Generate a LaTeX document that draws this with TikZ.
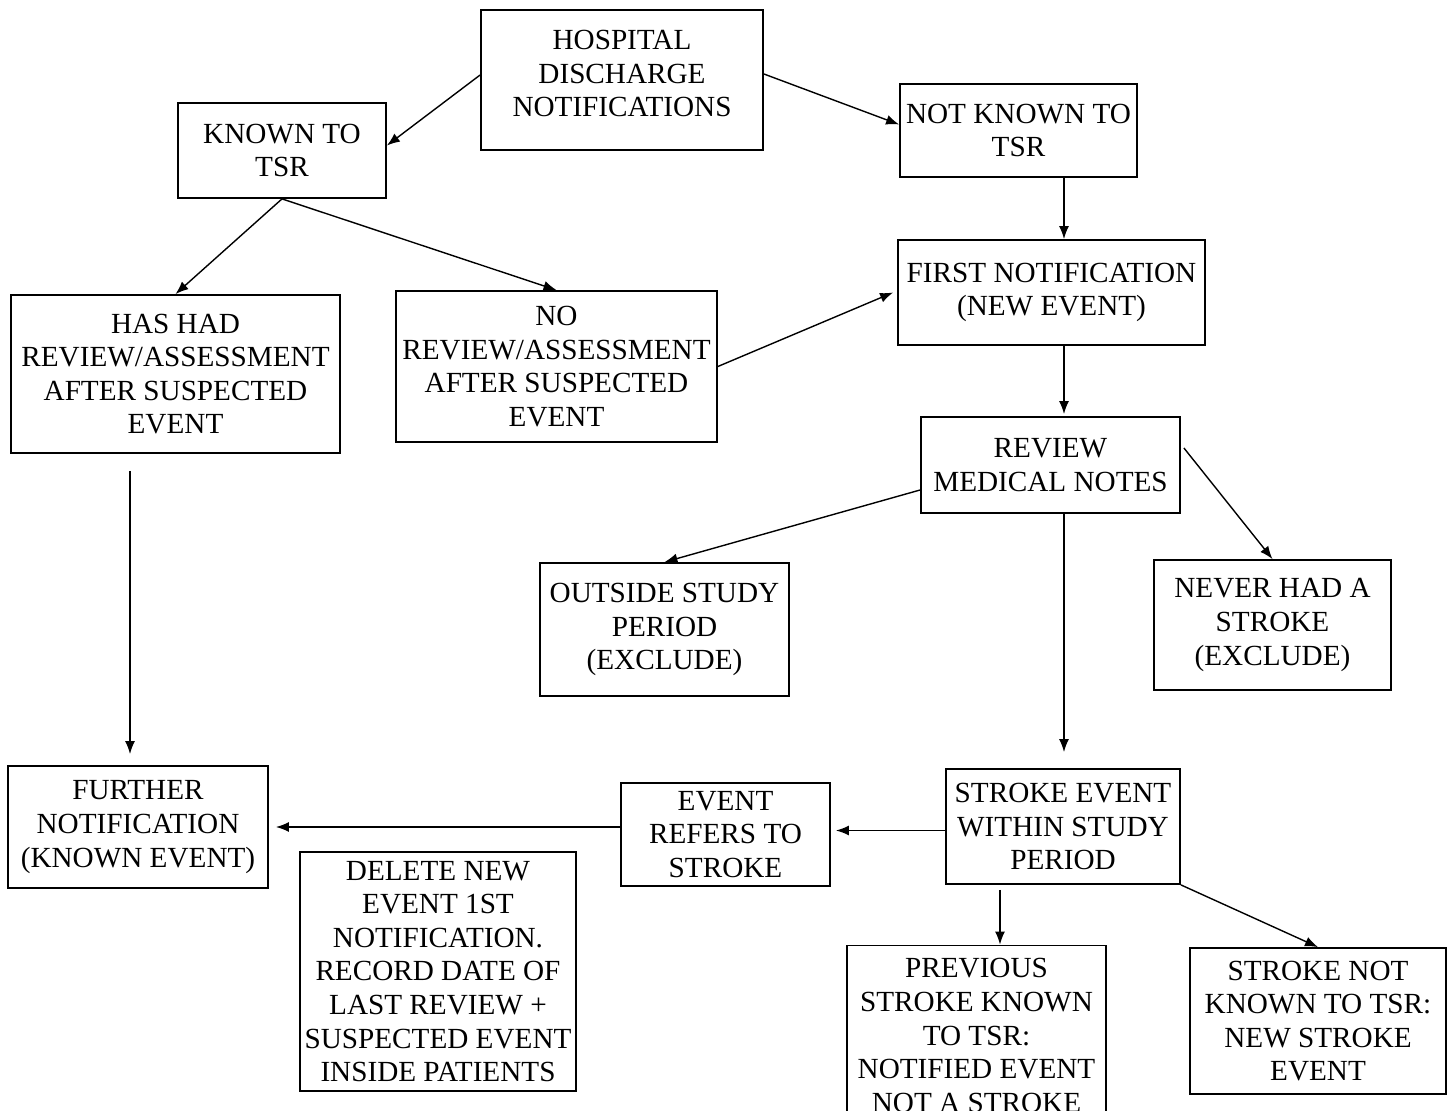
\documentclass[tikz,border=0pt]{standalone}
\usepackage{fontspec}
\setmainfont{Liberation Serif}
\usetikzlibrary{arrows.meta}

\begin{document}
\begin{tikzpicture}
            [x=0.5pt, y=-0.5pt, ->, >={Latex[length=6.5pt,width=5pt]}, line width=0.7pt,
             box/.style={shape=rectangle, draw=black, line width=0.9pt, align=center, inner sep=1pt,
                         font=\fontsize{14.6}{16.8}\selectfont}]
            \useasboundingbox (0,0) rectangle (1448,1111);

            \node[box, minimum width=141pt, minimum height=70pt, text depth=6.5pt] (hosp) at (622, 80) {HOSPITAL\\DISCHARGE\\NOTIFICATIONS};
            \node[box, minimum width=104pt, minimum height=47.5pt] (known) at (282, 150.5) {KNOWN TO\\TSR};
            \node[box, minimum width=118.5pt, minimum height=46.5pt] (notknown) at (1018.5, 130.5) {NOT KNOWN TO\\TSR};
            \node[box, minimum width=164.5pt, minimum height=79pt] (hashad) at (175.5, 374) {HAS HAD\\REVIEW/ASSESSMENT\\AFTER SUSPECTED\\EVENT};
            \node[box, minimum width=160.5pt, minimum height=75.5pt] (noreview) at (556.5, 366.5) {NO\\REVIEW/ASSESSMENT\\AFTER SUSPECTED\\EVENT};
            \node[box, minimum width=153.5pt, minimum height=52.5pt] (first) at (1051.5, 292.5) {FIRST NOTIFICATION\\(NEW EVENT)};
            \node[box, minimum width=129.5pt, minimum height=48pt] (review) at (1050.5, 465) {REVIEW\\MEDICAL NOTES};
            \node[box, minimum width=124.5pt, minimum height=66.5pt] (outside) at (664.5, 629.5) {OUTSIDE STUDY\\PERIOD\\(EXCLUDE)};
            \node[box, minimum width=118.5pt, minimum height=65pt] (never) at (1272.5, 625) {NEVER HAD A\\STROKE\\(EXCLUDE)};
            \node[box, minimum width=130pt, minimum height=61pt] (further) at (138, 827) {FURTHER\\NOTIFICATION\\(KNOWN EVENT)};
            \node[box, minimum width=104.5pt, minimum height=51.5pt] (refers) at (725.5, 834.5) {EVENT\\REFERS TO\\STROKE};
            \node[box, minimum width=138pt, minimum height=119.5pt] (delete) at (438, 971.5) {DELETE NEW\\EVENT 1ST\\NOTIFICATION.\\RECORD DATE OF\\LAST REVIEW +\\SUSPECTED EVENT\\INSIDE PATIENTS};
            \node[box, minimum width=117pt, minimum height=57.5pt] (stroke) at (1063, 826.5) {STROKE EVENT\\WITHIN STUDY\\PERIOD};
            \node[box, minimum width=129.5pt, minimum height=90pt] (previous) at (976.5, 1035.5) {PREVIOUS\\STROKE KNOWN\\TO TSR:\\NOTIFIED EVENT\\NOT A STROKE};
            \node[box, minimum width=128pt, minimum height=73pt] (strokenot) at (1318, 1021) {STROKE NOT\\KNOWN TO TSR:\\NEW STROKE\\EVENT};

            % vertical runs that are not centred on a box
            \coordinate (spine) at (1064, 0);
            \coordinate (leftspine) at (130, 0);
            \coordinate (prevspine) at (1000, 0);

            \draw ([yshift=2.5pt]hosp.west) -- ([yshift=2.5pt]known.east);
            \draw ([yshift=3pt]hosp.east) -- ([yshift=3pt]notknown.west);
            \draw (known.south) -- (hashad.north);
            \draw (known.south) -- (noreview.north);
            \draw (notknown.south -| spine) -- (first.north -| spine);
            \draw (noreview.east) -- ([xshift=-2pt]first.west);
            \draw (first.south -| spine) -- ([yshift=1pt]review.north -| spine);
            \draw ([yshift=-12.5pt]review.west) -- (outside.north);
            \draw ([xshift=1.5pt, yshift=8.5pt]review.east) -- (never.north);
            \draw[shorten >=8pt] (review.south -| spine) -- (stroke.north -| spine);
            \draw[shorten <=8.5pt, shorten >=5.5pt] (hashad.south -| leftspine) -- (further.north -| leftspine);
            \draw[shorten >=2.5pt] ([yshift=-2pt]stroke.west) -- ([yshift=-2pt]stroke.west -| refers.east);
            \draw[shorten >=3.5pt] (refers.west |- further.east) -- (further.east);
            \draw[shorten <=2.5pt] (stroke.south -| prevspine) -- (previous.north -| prevspine);
            \draw (stroke.south east) -- (strokenot.north);
        \end{tikzpicture}
\end{document}
